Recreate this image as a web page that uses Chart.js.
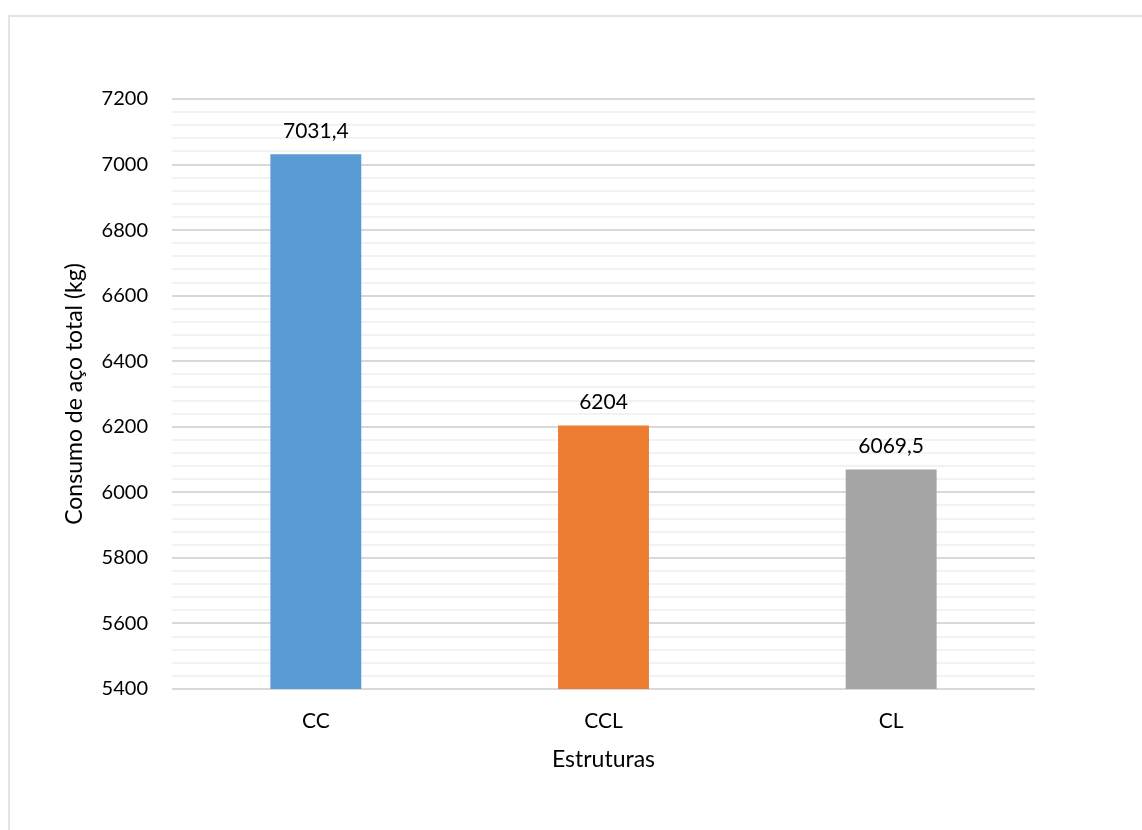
<!DOCTYPE html>
<html>
<head>
<meta charset="utf-8">
<script src="https://cdn.jsdelivr.net/npm/chart.js@4"></script>
<style>
  html, body { margin: 0; padding: 0; background: #fff; overflow: hidden; }
  #frame {
    position: absolute; left: 8px; top: 15px;
    width: 1200px; height: 900px;
    border: 2px solid #e4e4e4; box-sizing: border-box;
  }
  #wrap { position: absolute; left: 0; top: 0; width: 1142px; height: 830px; }
</style>
</head>
<body>
<div id="frame"></div>
<div id="wrap"><canvas id="steelChart"></canvas></div>
<script>
const categories = ['CC', 'CCL', 'CL'];
const steelTotals = [7031.4, 6204, 6069.5];
const valueLabels = ['7031,4', '6204', '6069,5'];
const barColors = ['#5b9bd5', '#ed7d31', '#a5a5a5'];

const FONT = 'Lato, "Open Sans", sans-serif';

// writes each bar's value just above it
const barValues = {
    id: 'barValues',
    afterDatasetsDraw(chart) {
        const ctx = chart.ctx;
        const meta = chart.getDatasetMeta(0);
        ctx.save();
        ctx.font = '21px ' + FONT;
        ctx.fillStyle = '#000';
        ctx.textAlign = 'center';
        ctx.textBaseline = 'bottom';
        meta.data.forEach((bar, i) => {
            ctx.fillText(valueLabels[i], bar.x, bar.y - 13);
        });
        ctx.restore();
    }
};

const ctx = document.getElementById('steelChart').getContext('2d');
const chart = new Chart(ctx, {
    type: 'bar',
    data: {
        labels: categories,
        datasets: [{
            data: steelTotals,
            backgroundColor: barColors,
            barPercentage: 0.316,
            categoryPercentage: 1
        }]
    },
    options: {
        responsive: true,
        maintainAspectRatio: false,
        animation: false,
        layout: { padding: { left: 57, top: 99, right: 107, bottom: 53 } },
        plugins: {
            legend: { display: false },
            tooltip: { enabled: false }
        },
        scales: {
            x: {
                grid: { display: false, drawTicks: false },
                border: { display: false },
                ticks: { color: '#000', font: { family: FONT, size: 21 }, padding: 20 },
                title: {
                    display: true,
                    text: 'Estruturas',
                    color: '#000',
                    font: { family: FONT, size: 23 }
                },
                afterFit: s => { s.height = 88; }
            },
            y: {
                min: 5400,
                max: 7200,
                ticks: {
                    stepSize: 40,
                    autoSkip: false,
                    color: '#000',
                    font: { family: FONT, size: 20 },
                    padding: 24,
                    callback: v => (v % 200 === 0 ? v : '')
                },
                grid: {
                    drawTicks: false,
                    lineWidth: 2,
                    color: c => (c.tick && c.tick.value % 200 === 0 ? '#d9d9d9' : '#f2f2f2')
                },
                border: { display: false },
                title: {
                    display: true,
                    text: 'Consumo de aço total (kg)',
                    color: '#000',
                    font: { family: FONT, size: 23 }
                },
                afterFit: s => { s.width = 115; }
            }
        }
    },
    plugins: [barValues]
});
</script>
</body>
</html>
